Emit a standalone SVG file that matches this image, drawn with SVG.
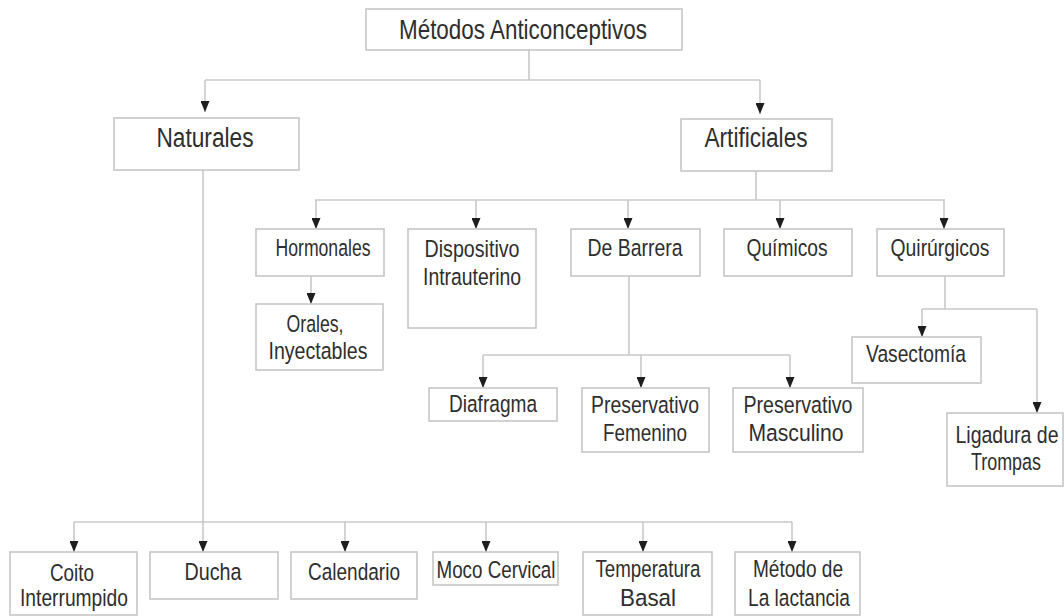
<svg xmlns="http://www.w3.org/2000/svg" width="1064" height="616" viewBox="0 0 1064 616">
<style>
.box{fill:#fff;stroke:#c6c6c6;stroke-width:1.6}
.ln{fill:none;stroke:#c9c9c9;stroke-width:1.6}
.t{font-family:"Liberation Sans",Arial,sans-serif;fill:#2e2e2e;text-anchor:middle}
.t0{font-size:28px}
.t1{font-size:27px}
.t2{font-size:24.5px}
</style>
<defs>
<marker id="ah" viewBox="0 0 11 9" refX="11" refY="4.5" markerWidth="11" markerHeight="9" markerUnits="userSpaceOnUse" orient="auto">
<path d="M0,0 L11,4.5 L0,9 z" fill="#1e1e1e"/>
</marker>
</defs>
<rect width="1064" height="616" fill="#fff"/>
<g id="connectors">
<path class="ln" d="M529,50 V80 M205,80 H760"/>
<path class="ln" d="M205,80 V112" marker-end="url(#ah)"/>
<path class="ln" d="M760,80 V114" marker-end="url(#ah)"/>
<path class="ln" d="M756,171 V200 M315,200 H945"/>
<path class="ln" d="M316,200 V229" marker-end="url(#ah)"/>
<path class="ln" d="M476,200 V229" marker-end="url(#ah)"/>
<path class="ln" d="M628,200 V229" marker-end="url(#ah)"/>
<path class="ln" d="M780,200 V229" marker-end="url(#ah)"/>
<path class="ln" d="M944,200 V229" marker-end="url(#ah)"/>
<path class="ln" d="M311,276 V304" marker-end="url(#ah)"/>
<path class="ln" d="M629,276 V355 M483,355 H790"/>
<path class="ln" d="M483,355 V388" marker-end="url(#ah)"/>
<path class="ln" d="M641,355 V388" marker-end="url(#ah)"/>
<path class="ln" d="M790,355 V388" marker-end="url(#ah)"/>
<path class="ln" d="M945,276 V309 M922,309 H1037"/>
<path class="ln" d="M922,309 V337" marker-end="url(#ah)"/>
<path class="ln" d="M1037,309 V413" marker-end="url(#ah)"/>
<path class="ln" d="M203,170 V522 M74,522 H792"/>
<path class="ln" d="M74,522 V552" marker-end="url(#ah)"/>
<path class="ln" d="M203,522 V552" marker-end="url(#ah)"/>
<path class="ln" d="M345,522 V552" marker-end="url(#ah)"/>
<path class="ln" d="M486,522 V552" marker-end="url(#ah)"/>
<path class="ln" d="M643,522 V552" marker-end="url(#ah)"/>
<path class="ln" d="M792,522 V552" marker-end="url(#ah)"/>
</g>
<g id="n-root"><rect class="box" x="366" y="9" width="316" height="41"/><text class="t t0" x="523" y="39" textLength="248" lengthAdjust="spacingAndGlyphs">Métodos Anticonceptivos</text></g>
<g id="n-naturales"><rect class="box" x="114" y="118" width="185" height="52"/><text class="t t1" x="205" y="147" textLength="97" lengthAdjust="spacingAndGlyphs">Naturales</text></g>
<g id="n-artificiales"><rect class="box" x="681" y="119" width="151" height="52"/><text class="t t1" x="756" y="147" textLength="103" lengthAdjust="spacingAndGlyphs">Artificiales</text></g>
<g id="n-hormonales"><rect class="box" x="256" y="229" width="128" height="47"/><text class="t t2" x="323" y="256" textLength="95" lengthAdjust="spacingAndGlyphs">Hormonales</text></g>
<g id="n-diu"><rect class="box" x="408" y="229" width="128" height="99"/><text class="t t2" x="472" y="257" textLength="95" lengthAdjust="spacingAndGlyphs">Dispositivo</text><text class="t t2" x="472" y="285" textLength="98" lengthAdjust="spacingAndGlyphs">Intrauterino</text></g>
<g id="n-barrera"><rect class="box" x="571" y="229" width="129" height="47"/><text class="t t2" x="635" y="256" textLength="95" lengthAdjust="spacingAndGlyphs">De Barrera</text></g>
<g id="n-quimicos"><rect class="box" x="724" y="229" width="128" height="47"/><text class="t t2" x="787" y="256" textLength="81" lengthAdjust="spacingAndGlyphs">Químicos</text></g>
<g id="n-quirurgicos"><rect class="box" x="877" y="229" width="127" height="47"/><text class="t t2" x="940" y="256" textLength="99" lengthAdjust="spacingAndGlyphs">Quirúrgicos</text></g>
<g id="n-orales"><rect class="box" x="256" y="304" width="127" height="66"/><text class="t t2" x="315" y="332" textLength="57" lengthAdjust="spacingAndGlyphs">Orales,</text><text class="t t2" x="318" y="359" textLength="99" lengthAdjust="spacingAndGlyphs">Inyectables</text></g>
<g id="n-diafragma"><rect class="box" x="429" y="388" width="128" height="33"/><text class="t t2" x="493" y="412" textLength="88" lengthAdjust="spacingAndGlyphs">Diafragma</text></g>
<g id="n-presfem"><rect class="box" x="582" y="388" width="127" height="64"/><text class="t t2" x="645" y="413" textLength="108" lengthAdjust="spacingAndGlyphs">Preservativo</text><text class="t t2" x="645" y="441" textLength="84" lengthAdjust="spacingAndGlyphs">Femenino</text></g>
<g id="n-presmasc"><rect class="box" x="733" y="388" width="130" height="64"/><text class="t t2" x="798" y="413" textLength="109" lengthAdjust="spacingAndGlyphs">Preservativo</text><text class="t t2" x="796" y="441" textLength="95" lengthAdjust="spacingAndGlyphs">Masculino</text></g>
<g id="n-vasectomia"><rect class="box" x="852" y="337" width="129" height="46"/><text class="t t2" x="916" y="362" textLength="100" lengthAdjust="spacingAndGlyphs">Vasectomía</text></g>
<g id="n-ligadura"><rect class="box" x="947" y="413" width="116" height="73"/><text class="t t2" x="1007" y="443" textLength="103" lengthAdjust="spacingAndGlyphs">Ligadura de</text><text class="t t2" x="1006" y="470" textLength="70" lengthAdjust="spacingAndGlyphs">Trompas</text></g>
<g id="n-coito"><rect class="box" x="10" y="552" width="127" height="63"/><text class="t t2" x="72" y="581" textLength="44" lengthAdjust="spacingAndGlyphs">Coito</text><text class="t t2" x="74" y="606" textLength="108" lengthAdjust="spacingAndGlyphs">Interrumpido</text></g>
<g id="n-ducha"><rect class="box" x="150" y="552" width="128" height="47"/><text class="t t2" x="213" y="580" textLength="57" lengthAdjust="spacingAndGlyphs">Ducha</text></g>
<g id="n-calendario"><rect class="box" x="291" y="552" width="126" height="47"/><text class="t t2" x="354" y="580" textLength="92" lengthAdjust="spacingAndGlyphs">Calendario</text></g>
<g id="n-moco"><rect class="box" x="433" y="552" width="125" height="33"/><text class="t t2" x="496" y="578" textLength="119" lengthAdjust="spacingAndGlyphs">Moco Cervical</text></g>
<g id="n-temperatura"><rect class="box" x="583" y="552" width="129" height="63"/><text class="t t2" x="648" y="577" textLength="105" lengthAdjust="spacingAndGlyphs">Temperatura</text><text class="t t2" x="648" y="606" textLength="56" lengthAdjust="spacingAndGlyphs">Basal</text></g>
<g id="n-lactancia"><rect class="box" x="735" y="552" width="125" height="63"/><text class="t t2" x="798" y="577" textLength="90" lengthAdjust="spacingAndGlyphs">Método de</text><text class="t t2" x="799" y="606" textLength="102" lengthAdjust="spacingAndGlyphs">La lactancia</text></g>
</svg>
